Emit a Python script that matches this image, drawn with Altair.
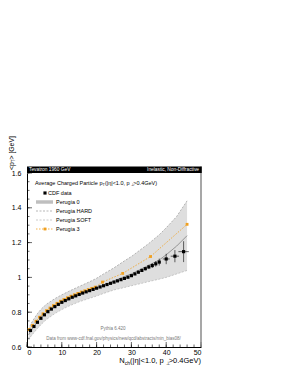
import altair as alt
import pandas as pd

# ---------------- data ----------------
cdf_n = list(range(1, 39)) + [40, 42.5, 45]
cdf_v = [0.695, 0.718, 0.742, 0.765, 0.785, 0.803, 0.818, 0.832, 0.845, 0.857,
         0.867, 0.877, 0.886, 0.894, 0.902, 0.910, 0.917, 0.924, 0.931, 0.938,
         0.945, 0.952, 0.959, 0.966, 0.973, 0.980, 0.987, 0.994, 1.001, 1.010,
         1.020, 1.030, 1.040, 1.050, 1.060, 1.068, 1.078, 1.088, 1.106, 1.122, 1.148]
cdf_ey = [0.004] * 29 + [0.006, 0.007, 0.008, 0.009, 0.010, 0.012, 0.014, 0.016, 0.020,
                          0.030, 0.035, 0.060]
cdf_ex = [0.0] * 38 + [1.0, 1.2, 1.5]

p3_n = [0.6, 1.6, 2.6, 3.6, 4.6, 5.6, 6.6, 7.6, 8.6, 9.6, 10.6, 11.6, 12.6, 13.6,
        14.6, 15.6, 16.6, 17.6, 18.6, 19.6, 21.7, 27.5, 35.5, 46.0]
p3_v = [0.700, 0.724, 0.748, 0.771, 0.791, 0.809, 0.824, 0.838, 0.851, 0.863,
        0.873, 0.883, 0.892, 0.900, 0.908, 0.916, 0.923, 0.930, 0.937, 0.944,
        0.973, 1.023, 1.120, 1.305]

band_n = [0.5, 1, 2, 3, 4, 5, 6, 8, 10, 12, 15, 18, 20, 22, 25, 28, 30, 33, 35, 38, 40, 43, 46]
hard_v = [0.700, 0.728, 0.762, 0.792, 0.816, 0.836, 0.852, 0.878, 0.900, 0.920, 0.948,
          0.975, 0.995, 1.020, 1.055, 1.095, 1.120, 1.165, 1.195, 1.245, 1.285, 1.350, 1.440]
soft_v = [0.640, 0.658, 0.683, 0.707, 0.728, 0.748, 0.764, 0.792, 0.815, 0.835, 0.860,
          0.880, 0.893, 0.908, 0.928, 0.942, 0.952, 0.966, 0.976, 0.990, 1.000, 1.020, 1.040]
p0_v = [0.670, 0.690, 0.718, 0.745, 0.768, 0.790, 0.805, 0.830, 0.853, 0.872, 0.900,
        0.925, 0.940, 0.955, 0.980, 1.005, 1.020, 1.050, 1.070, 1.100, 1.130, 1.180, 1.240]

y_major = [0.6, 0.8, 1.0, 1.2, 1.4, 1.6]
y_minor = [round(0.6 + 0.05 * i, 2) for i in range(21)]
x_major = [0, 10, 20, 30, 40, 50]
x_minor = list(range(0, 51, 2))

FONT = "Liberation Sans"
W, H = 174, 174
ORANGE = "#f0a020"

cdf = pd.DataFrame({"n": cdf_n, "v": cdf_v, "ey": cdf_ey, "ex": cdf_ex})
cdf["lo"] = cdf.v - cdf.ey
cdf["hi"] = cdf.v + cdf.ey
cdf["xl"] = cdf.n - cdf.ex
cdf["xh"] = cdf.n + cdf.ex
p3 = pd.DataFrame({"n": p3_n, "v": p3_v})
band = pd.DataFrame({"n": band_n, "hard": hard_v, "soft": soft_v, "p0": p0_v})

xs = alt.Scale(domain=[0, 50], nice=False, zero=False)
ys = alt.Scale(domain=[0.6, 1.6], nice=False, zero=False)
xax = alt.Axis(values=x_major, format="d", ticks=False, grid=False, labelPadding=1,
               domainColor="black", labelFontSize=7, labelFont=FONT, labelColor="black")
yax = alt.Axis(values=y_major, format="~g", ticks=False, grid=False, labelPadding=6,
               domainColor="black", labelFontSize=7, labelFont=FONT, labelColor="black")


def X(f):
    return alt.X(f"{f}:Q", scale=xs, axis=xax, title=None)


def Y(f):
    return alt.Y(f"{f}:Q", scale=ys, axis=yax, title=None)


layers = []
# band (Perugia HARD / SOFT envelope)
layers.append(alt.Chart(band).mark_area(color="#dedede", opacity=1).encode(
    x=X("n"), y=Y("hard"), y2="soft"))
layers.append(alt.Chart(band).mark_line(color="#9a9a9a", strokeDash=[2, 1.5], strokeWidth=0.7).encode(
    x=X("n"), y=Y("hard")))
layers.append(alt.Chart(band).mark_line(color="#b5b5b5", strokeDash=[2, 1.5], strokeWidth=0.7).encode(
    x=X("n"), y=Y("soft")))
layers.append(alt.Chart(band).mark_line(color="#808080", strokeWidth=0.8).encode(
    x=X("n"), y=Y("p0")))
# Perugia 3
layers.append(alt.Chart(p3).mark_line(color=ORANGE, strokeDash=[1.5, 1.5], strokeWidth=0.8).encode(
    x=X("n"), y=Y("v")))
layers.append(alt.Chart(p3).mark_square(color=ORANGE, size=8, opacity=1).encode(
    x=X("n"), y=Y("v")))
# CDF data
layers.append(alt.Chart(cdf).mark_rule(color="black", strokeWidth=0.6).encode(
    x=X("n"), y=Y("lo"), y2="hi"))
layers.append(alt.Chart(cdf).mark_rule(color="black", strokeWidth=0.6).encode(
    x=X("xl"), x2="xh", y=Y("v")))
layers.append(alt.Chart(cdf).mark_square(color="black", size=10, opacity=1).encode(
    x=X("n"), y=Y("v")))


# inward ticks
def ticks_y(vals, length):
    df = pd.DataFrame({"v": vals})
    return alt.Chart(df).mark_rule(color="black", strokeWidth=0.6).encode(
        y=Y("v"), x=alt.value(0), x2=alt.value(length))


def ticks_x(vals, length):
    df = pd.DataFrame({"n": vals})
    return alt.Chart(df).mark_rule(color="black", strokeWidth=0.6).encode(
        x=X("n"), y=alt.value(H), y2=alt.value(H - length))


layers += [ticks_y(y_minor, 2.5), ticks_y(y_major, 5), ticks_x(x_minor, 2.5), ticks_x(x_major, 5)]

one = pd.DataFrame({"a": [0]})

# right frame line
layers.append(alt.Chart(one).mark_rule(color="#8a8a8a", strokeWidth=1.5).encode(
    x=alt.value(W), y=alt.value(-6.5), y2=alt.value(H)))
# title bar
layers.append(alt.Chart(one).mark_rect(color="black").encode(
    x=alt.value(0), x2=alt.value(W + 0.75), y=alt.value(-6.5), y2=alt.value(0)))

# helvetica-like widths
WID = {"A": 667, "v": 500, "e": 556, "r": 333, "a": 556, "g": 556, " ": 278, "C": 722,
       "h": 556, "d": 556, "P": 667, "t": 278, "i": 222, "c": 500, "l": 222, "p": 556,
       "(": 333, ")": 333, "|": 260, "η": 556, "<": 584, ">": 584, ".": 278, ",": 278,
       "G": 778, "V": 667, "N": 722, "T": 611, "[": 278, "]": 278, "⊥": 584}


def width(s, size):
    return sum(WID.get(ch, 556) for ch in s) * size / 1000.0


def txt(s, x, y, size, color="black", align="left", angle=0, baseline="middle"):
    return alt.Chart(one).mark_text(text=s, fontSize=size, color=color, align=align,
                                    baseline=baseline, angle=angle, font=FONT).encode(
        x=alt.value(x), y=alt.value(y))


def rich(segs, x0, y0, horizontal=True):
    """segs: list of (text, size, shift)"""
    out = []
    pos = 0.0
    for s, size, shift in segs:
        if horizontal:
            out.append(txt(s, x0 + pos, y0 + shift, size))
        else:
            out.append(txt(s, x0 + shift, y0 - pos, size, angle=270))
        pos += width(s, size)
    return out, pos


# title bar texts
layers.append(txt("Tevatron 1960 GeV", 2, -3.1, 4.8, color="white"))
layers.append(txt("Inelastic, Non-Diffractive", W - 2, -3.1, 4.8, color="white", align="right"))

# legend title
lt, _ = rich([("Average Charged Particle p", 5.5, 0), ("T", 3.8, 1.5),
              (" (|η|<1.0, p", 5.5, 0), ("⊥", 3.8, 1.5), (">0.4GeV)", 5.5, 0)], 8, 10)
layers += lt

# legend entries
ly = [20, 29, 38, 47, 56]
layers.append(alt.Chart(one).mark_square(color="black", size=10, opacity=1).encode(
    x=alt.value(18), y=alt.value(ly[0])))
layers.append(txt("CDF data", 21, ly[0], 5.5))
layers.append(alt.Chart(one).mark_rule(color="#d0d0d0", strokeWidth=4).encode(
    x=alt.value(9), x2=alt.value(26), y=alt.value(ly[1])))
layers.append(alt.Chart(one).mark_rule(color="#999999", strokeWidth=0.6).encode(
    x=alt.value(9), x2=alt.value(26), y=alt.value(ly[1])))
layers.append(txt("Perugia 0", 29, ly[1], 5.5))
layers.append(alt.Chart(one).mark_rule(color="#9a9a9a", strokeWidth=0.7, strokeDash=[2, 1.5]).encode(
    x=alt.value(9), x2=alt.value(26), y=alt.value(ly[2])))
layers.append(txt("Perugia HARD", 29, ly[2], 5.5))
layers.append(alt.Chart(one).mark_rule(color="#b5b5b5", strokeWidth=0.7, strokeDash=[2, 1.5]).encode(
    x=alt.value(9), x2=alt.value(26), y=alt.value(ly[3])))
layers.append(txt("Perugia SOFT", 29, ly[3], 5.5))
layers.append(alt.Chart(one).mark_rule(color=ORANGE, strokeWidth=0.8, strokeDash=[1.5, 1.5]).encode(
    x=alt.value(9), x2=alt.value(26), y=alt.value(ly[4])))
layers.append(alt.Chart(one).mark_square(color=ORANGE, size=8, opacity=1).encode(
    x=alt.value(18), y=alt.value(ly[4])))
layers.append(txt("Perugia 3", 29, ly[4], 5.5))

# annotations
layers.append(txt("Pythia 6.420", 86, 156, 4.5, color="#777777", align="center"))
layers.append(txt("Data from www-cdf.fnal.gov/physics/new/qcd/abstracts/min_bias08/", 86.5, 166,
                  4.5, color="#777777", align="center"))

# x axis title (right aligned at frame end)
xsegs = [("N", 7.5, 0), ("ch", 5, 2), (" (|η|<1.0, p", 7.5, 0), ("⊥", 5, 2), (">0.4GeV)", 7.5, 0)]
xtot = sum(width(s, z) for s, z, _ in xsegs)
xt, _ = rich(xsegs, W - xtot, 188)
layers += xt

# y axis title (rotated, ending near top of axis)
ysegs = [("<p", 6.8, 0), ("T", 4.6, 1.8), ("> [GeV]", 6.8, 0)]
yt, _ = rich(ysegs, -15, -3, horizontal=False)
layers += yt

chart = alt.layer(*layers).properties(
    width=W, height=H,
    padding={"left": 19, "top": 165, "right": 60, "bottom": 26},
    autosize=alt.AutoSizeParams(type="none"),
    background="white",
).configure_view(strokeWidth=0)

chart.save("out.html", embed_options={"renderer": "svg", "actions": False})
